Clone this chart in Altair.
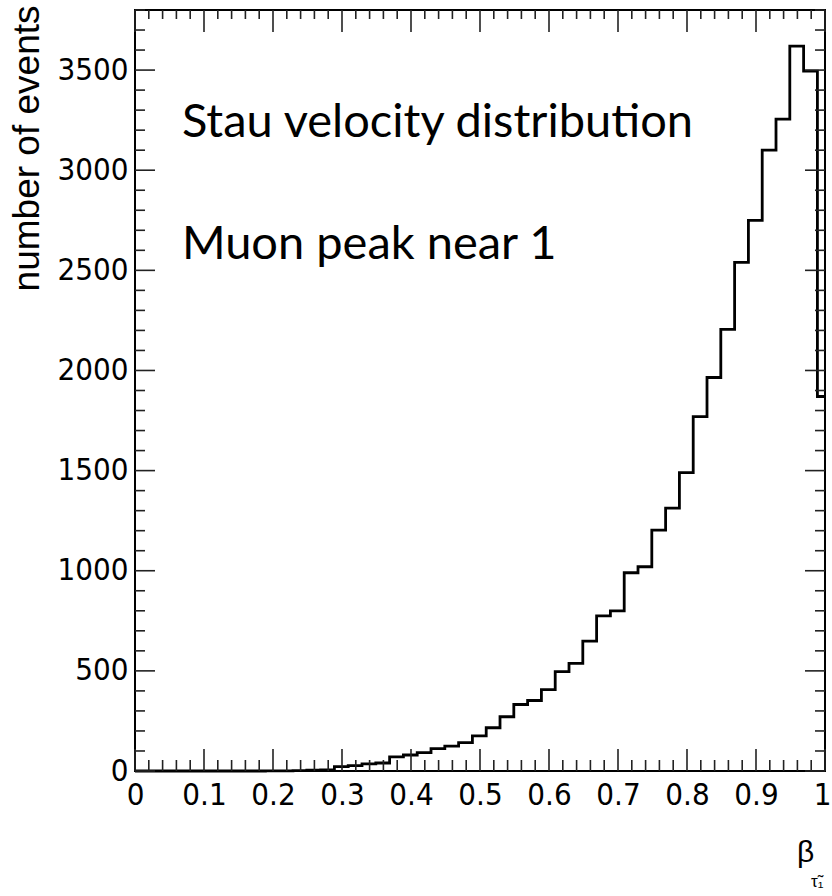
import altair as alt
import pandas as pd

# ---- data ----
bin_start = 0.009
bin_width = 0.02
counts = [0, 0, 0, 0, 0, 0, 0, 0, 0, 1,
          1, 2, 4, 6, 22, 27, 36, 40, 71, 80,
          92, 112, 124, 142, 175, 216, 271, 332, 352, 406,
          496, 537, 649, 775, 800, 990, 1020, 1203, 1313, 1490,
          1770, 1965, 2205, 2540, 2750, 3100, 3255, 3620, 3495, 1870]

x_major = [0, 0.1, 0.2, 0.3, 0.4, 0.5, 0.6, 0.7, 0.8, 0.9, 1]
x_minor = [round(i * 0.02, 2) for i in range(51) if i % 5 != 0]
y_major = [0, 500, 1000, 1500, 2000, 2500, 3000, 3500]
y_minor = [i * 100 for i in range(39) if i % 5 != 0]

ann_text = ["Stau velocity distribu\u200ction", "Muon peak near 1"]
ann_x = [0.068, 0.068]
ann_y = [3168, 2557]

# ---- layout ----
W, H = 690, 761
LABEL_FONT = "Liberation Sans Narrow, Arial Narrow, DejaVu Sans Condensed, Liberation Sans"

xs = [0.0] + [bin_start + k * bin_width for k in range(len(counts))] + [1.0]
ys = [0] + counts + [counts[-1]]
hist_df = pd.DataFrame({"x": xs, "y": ys})

xscale = alt.Scale(domain=[0, 1], nice=False, zero=False)
yscale = alt.Scale(domain=[0, 3800], nice=False, zero=False)

x_axis = alt.Axis(values=x_major, format="~g", ticks=False, tickSize=0, domain=False,
                  grid=False, labelFont=LABEL_FONT, labelFontSize=31, labelPadding=9,
                  labelColor="black", labelFlush=False, labelOverlap=False, title=None,
                  labelAlign={"expr": "datum.value >= 1 ? 'right' : 'center'"},
                  labelOffset={"expr": "datum.value >= 1 ? 6 : 0"})
y_axis = alt.Axis(values=y_major, format="d", ticks=False, tickSize=0, domain=False,
                  grid=False, labelFont=LABEL_FONT, labelFontSize=31, labelPadding=7,
                  labelColor="black", labelFlush=False, labelOverlap=False,
                  title="number of events", titleFont="Liberation Sans",
                  titleFontSize=37, titleFontWeight="normal", titleColor="black",
                  titleAngle=270, titleAlign="right", titleBaseline="middle",
                  titleX=-108, titleY=-5)

hist = alt.Chart(hist_df).mark_line(
    interpolate="step-after", color="black", strokeWidth=2.8
).encode(
    x=alt.X("x:Q", scale=xscale, axis=x_axis),
    y=alt.Y("y:Q", scale=yscale, axis=y_axis),
)

tick_style = dict(color="#222222", strokeWidth=1.6)


def xticks(vals, y0, y1):
    return alt.Chart(pd.DataFrame({"x": vals})).mark_rule(**tick_style).encode(
        x=alt.X("x:Q", scale=xscale, axis=x_axis),
        y=alt.value(y0), y2=alt.value(y1))


def yticks(vals, x0, x1):
    return alt.Chart(pd.DataFrame({"y": vals})).mark_rule(**tick_style).encode(
        y=alt.Y("y:Q", scale=yscale, axis=y_axis),
        x=alt.value(x0), x2=alt.value(x1))


ticks = [
    xticks(x_major, H, H - 22), xticks(x_minor, H, H - 11),
    xticks(x_major, 0, 22), xticks(x_minor, 0, 9),
    yticks(y_major, 0, 20), yticks(y_minor, 0, 10),
    yticks(y_major, W, W - 20), yticks(y_minor, W, W - 10),
]

ann = alt.Chart(pd.DataFrame({"x": ann_x, "y": ann_y, "t": ann_text})).mark_text(
    align="left", baseline="alphabetic", font="Lato", fontSize=47, color="black"
).encode(
    x=alt.X("x:Q", scale=xscale, axis=x_axis),
    y=alt.Y("y:Q", scale=yscale, axis=y_axis),
    text="t:N",
)

beta = alt.Chart(pd.DataFrame({"t": ["β"]})).mark_text(
    align="left", baseline="alphabetic", font="Liberation Sans", fontSize=30, color="black"
).encode(x=alt.value(662), y=alt.value(852), text="t:N")

beta_sub = alt.Chart(pd.DataFrame({"t": ["τ̃₁"]})).mark_text(
    align="left", baseline="alphabetic", font="Liberation Sans", fontSize=17, color="black"
).encode(x=alt.value(676), y=alt.value(877), text="t:N")

chart = alt.layer(hist, *ticks, ann, beta, beta_sub).properties(
    width=W, height=H,
    autosize=alt.AutoSizeParams(type="none"),
    padding={"left": 135, "top": 10, "right": 7, "bottom": 125},
    background="white",
).configure_view(stroke="black", strokeWidth=2)

chart.save("out.html", embed_options={"renderer": "svg", "actions": False})
